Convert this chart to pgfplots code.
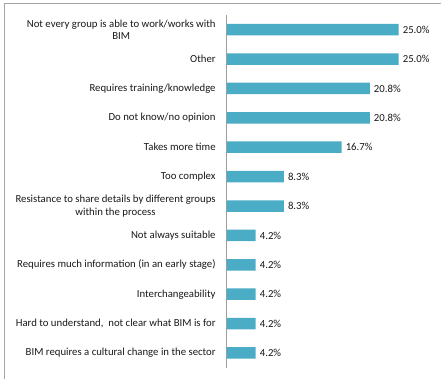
\documentclass[border=0pt]{standalone}
\usepackage{fontspec}
\setmainfont{Carlito}
\usepackage{pgfplots}
\pgfplotsset{compat=1.18}
\definecolor{barc}{HTML}{4BACC6}
\begin{document}
\begin{tikzpicture}
\path (0bp,0bp) rectangle (441bp,379bp);
\draw[gray!70, line width=0.8bp] (4bp,0bp) -- (4bp,376bp) -- (441bp,376bp);
\begin{axis}[
 at={(227bp,11bp)}, anchor=south west, scale only axis,
 width=206.4bp, height=353bp,
 xmin=0, xmax=30, ymin=-0.5, ymax=11.5, y dir=reverse,
 xbar, bar width=11.5bp,
 axis x line=none, axis y line*=left,
 y axis line style={-, draw=gray!75, line width=1bp},
 ytick={0,...,11}, major tick length=0pt,
 /pgf/number format/assume math mode=true,
 yticklabels={{Not every group is able to work/works with\\BIM},
   Other, Requires training/knowledge, Do not know/no opinion,
   Takes more time, Too complex,
   {Resistance to share details by different groups\\within the process},
   Not always suitable, Requires much information (in an early stage),
   Interchangeability, {Hard to understand,\ \ not clear what BIM is for},
   BIM requires a cultural change in the sector},
 yticklabel style={font=\fontsize{10.8}{12.5}\selectfont, align=center, inner sep=0pt, xshift=-11bp, text=black!90},
 nodes near coords={\pgfmathprintnumber[fixed,fixed zerofill,precision=1,assume math mode=true]{\pgfplotspointmeta}\%},
 every node near coord/.append style={font=\fontsize{10.8}{12.5}\selectfont, anchor=west, inner sep=0pt, xshift=4bp, text=black!90},
 clip=false,
]
\addplot[fill=barc, draw=none] coordinates {
 (25.0,0) (25.0,1) (20.8,2) (20.8,3) (16.7,4) (8.3,5) (8.3,6)
 (4.2,7) (4.2,8) (4.2,9) (4.2,10) (4.2,11)};
\end{axis}
\end{tikzpicture}
\end{document}
